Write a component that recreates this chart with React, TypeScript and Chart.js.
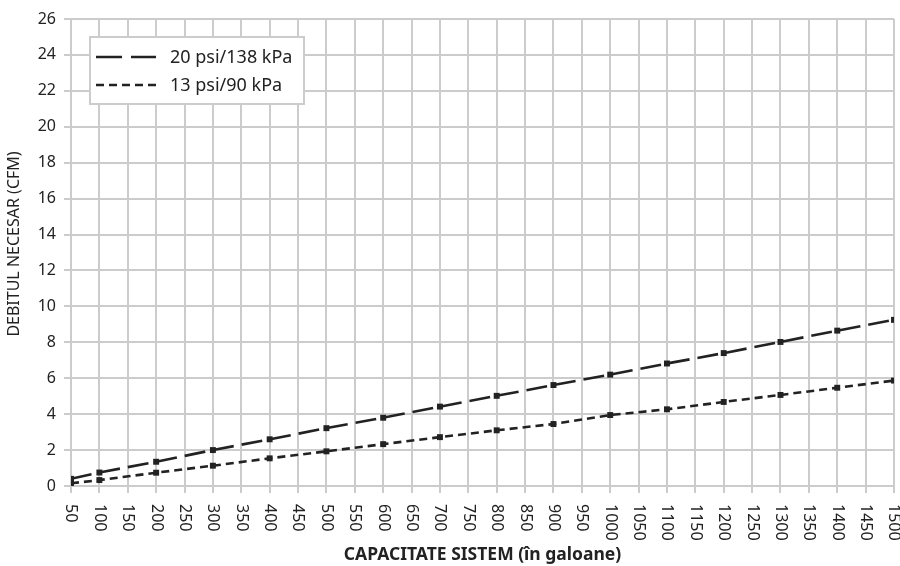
import React, { useEffect, useRef } from "react";
import { Chart, registerables } from "chart.js";

Chart.register(...registerables);

const xTicks = [50, 100, 150, 200, 250, 300, 350, 400, 450, 500, 550, 600, 650, 700, 750, 800, 850, 900, 950, 1000, 1050, 1100, 1150, 1200, 1250, 1300, 1350, 1400, 1450, 1500];
const capacities = [50, 100, 200, 300, 400, 500, 600, 700, 800, 900, 1000, 1100, 1200, 1300, 1400, 1500];
const flow20psi = [0.4, 0.75, 1.35, 2.0, 2.6, 3.22, 3.8, 4.42, 5.02, 5.62, 6.2, 6.82, 7.4, 8.02, 8.65, 9.25];
const flow13psi = [0.15, 0.33, 0.74, 1.13, 1.54, 1.93, 2.33, 2.72, 3.1, 3.45, 3.95, 4.27, 4.68, 5.07, 5.47, 5.87];
const seriesLabels = ["20 psi/138 kPa", "13 psi/90 kPa"];
const legendDashes = [[26, 9], [8, 5]];
const yTitle = "DEBITUL NECESAR (CFM)";
const xTitle = "CAPACITATE SISTEM (în galoane)";

const FONT = "'Noto Sans', sans-serif";
const INK = "#222222";
const GRID = "#cccccc";

export default function App() {
  const ref = useRef<HTMLCanvasElement | null>(null);

  useEffect(() => {
    document.body.style.margin = "0";
    const canvas = ref.current;
    if (!canvas) return;

    const overlay = {
      id: "overlay",
      afterDraw(chart: any) {
        const ctx = chart.ctx;
        const xs = chart.scales.x;
        const area = chart.chartArea;
        // rotated x tick labels (clockwise)
        ctx.save();
        ctx.fillStyle = INK;
        ctx.font = `16px ${FONT}`;
        ctx.textAlign = "left";
        ctx.textBaseline = "middle";
        xTicks.forEach((v) => {
          const px = xs.getPixelForValue(v);
          ctx.save();
          ctx.translate(px, area.bottom + 18);
          ctx.rotate(Math.PI / 2);
          ctx.fillText(String(v), 0, 0);
          ctx.restore();
        });
        ctx.restore();

        // y axis title
        ctx.save();
        ctx.fillStyle = INK;
        ctx.font = `16px ${FONT}`;
        ctx.textAlign = "center";
        ctx.textBaseline = "middle";
        ctx.translate(14, 244);
        ctx.rotate(-Math.PI / 2);
        ctx.fillText(yTitle, 0, 0);
        ctx.restore();

        // legend box
        const bx = area.left + 19;
        const by = area.top + 18;
        const bw = 214;
        const bh = 67;
        ctx.save();
        ctx.fillStyle = "#ffffff";
        ctx.fillRect(bx, by, bw, bh);
        ctx.strokeStyle = GRID;
        ctx.lineWidth = 2;
        ctx.strokeRect(bx, by, bw, bh);
        chart.data.datasets.forEach((ds: any, i: number) => {
          const y = by + 20 + i * 28;
          ctx.beginPath();
          ctx.setLineDash(legendDashes[i]);
          ctx.strokeStyle = INK;
          ctx.lineWidth = 2.5;
          ctx.moveTo(bx + 6, y);
          ctx.lineTo(bx + 66, y);
          ctx.stroke();
          ctx.setLineDash([]);
          ctx.fillStyle = INK;
          ctx.font = `18px ${FONT}`;
          ctx.textAlign = "left";
          ctx.textBaseline = "middle";
          ctx.fillText(ds.label, bx + 80, y + 1);
        });
        ctx.restore();
      },
    };

    const chart = new Chart(canvas, {
      type: "line",
      data: {
        datasets: [
          {
            label: seriesLabels[0],
            data: capacities.map((c, i) => ({ x: c, y: flow20psi[i] })),
            borderColor: INK,
            backgroundColor: INK,
            borderWidth: 2.6,
            borderDash: [21, 8],
            pointStyle: "rect",
            pointRadius: 4.2,
            pointBackgroundColor: INK,
            pointBorderWidth: 0,
            tension: 0,
          },
          {
            label: seriesLabels[1],
            data: capacities.map((c, i) => ({ x: c, y: flow13psi[i] })),
            borderColor: INK,
            backgroundColor: INK,
            borderWidth: 2.6,
            borderDash: [8, 5],
            pointStyle: "rect",
            pointRadius: 4.2,
            pointBackgroundColor: INK,
            pointBorderWidth: 0,
            tension: 0,
          },
        ],
      },
      options: {
        animation: false,
        responsive: false,
        devicePixelRatio: 1,
        layout: { padding: { top: 19, right: 6, bottom: 0, left: 0 } },
        plugins: {
          legend: { display: false },
          tooltip: { enabled: false },
        },
        scales: {
          x: {
            type: "linear",
            min: 50,
            max: 1500,
            afterBuildTicks: (scale: any) => {
              scale.ticks = xTicks.map((v) => ({ value: v }));
            },
            afterFit: (scale: any) => {
              scale.height = 80;
              scale.paddingLeft = 0;
              scale.paddingRight = 0;
            },
            ticks: { display: false },
            grid: { color: GRID, lineWidth: 2, tickLength: 7, drawTicks: true },
            border: { color: GRID, width: 2 },
            title: {
              display: true,
              text: xTitle,
              color: INK,
              font: { family: FONT, size: 17.5, weight: "bold" },
              padding: { top: 0, bottom: 0 },
            },
          },
          y: {
            min: 0,
            max: 26,
            afterFit: (scale: any) => {
              scale.width = 71;
            },
            ticks: {
              stepSize: 2,
              color: INK,
              font: { family: FONT, size: 16 },
              padding: 8,
            },
            grid: { color: GRID, lineWidth: 2, tickLength: 7 },
            border: { color: GRID, width: 2 },
            title: { display: false },
          },
        },
      },
      plugins: [overlay],
    } as any);

    return () => chart.destroy();
  }, []);

  return (
    <div style={{ width: 900, height: 566 }}>
      <canvas ref={ref} width={900} height={566} style={{ display: "block" }} />
    </div>
  );
}
